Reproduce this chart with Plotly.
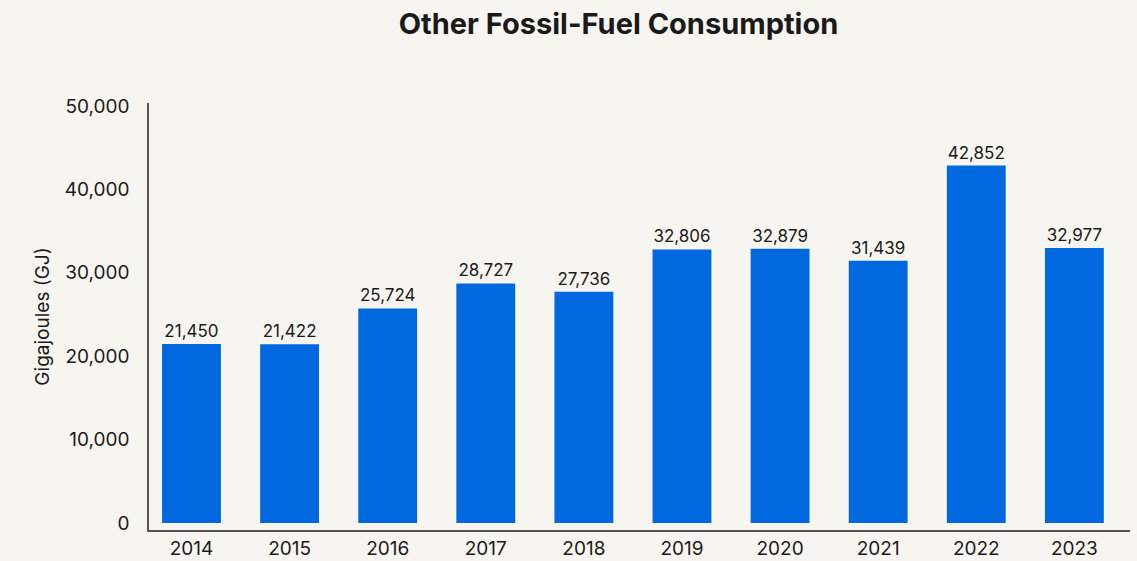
import plotly.graph_objects as go

years = ["2014", "2015", "2016", "2017", "2018", "2019", "2020", "2021", "2022", "2023"]
values = [21450, 21422, 25724, 28727, 27736, 32806, 32879, 31439, 42852, 32977]
y_ticks = [0, 10000, 20000, 30000, 40000, 50000]
y_tick_text = ["0", "10,000", "20,000", "30,000", "40,000", "50,000"]

font_family = "Inter, Open Sans, sans-serif"

fig = go.Figure(go.Bar(
    x=years, y=values,
    marker=dict(color="#0069E0", line=dict(width=0)),
    text=[f"{v:,}" for v in values],
    textposition="outside",
    textfont=dict(size=17, color="#1a1a1a", family=font_family),
    cliponaxis=False,
))

fig.update_layout(
    width=1137, height=561,
    paper_bgcolor="#F7F5F0", plot_bgcolor="#F7F5F0",
    margin=dict(l=149, r=7, t=103, b=31, autoexpand=False),
    bargap=0.4,
    showlegend=False,
    title=dict(text="<b>Other Fossil-Fuel Consumption</b>", x=0.544, xanchor="center",
               y=0.957, yanchor="middle",
               font=dict(size=29, color="#1a1a1a", family=font_family)),
    font=dict(family=font_family, color="#1a1a1a"),
)
fig.update_xaxes(
    range=[-0.433, 9.567], automargin=False,
    showline=True, linecolor="#555555", linewidth=1.5,
    ticks="", tickfont=dict(size=19, color="#1a1a1a"), showgrid=False,
)
fig.update_yaxes(
    range=[-840, 50360], automargin=False,
    showline=True, linecolor="#555555", linewidth=1.5,
    showgrid=False, zeroline=False, ticks="",
    tickvals=y_ticks, ticktext=y_tick_text,
    tickfont=dict(size=19, color="#1a1a1a"), ticklabelstandoff=14,
    title=dict(text="Gigajoules (GJ)", font=dict(size=19, color="#1a1a1a"), standoff=10),
)

fig.write_html("out.html", config={"displayModeBar": False},
               post_script="document.body.style.margin='0';document.body.style.background='#F7F5F0';")
